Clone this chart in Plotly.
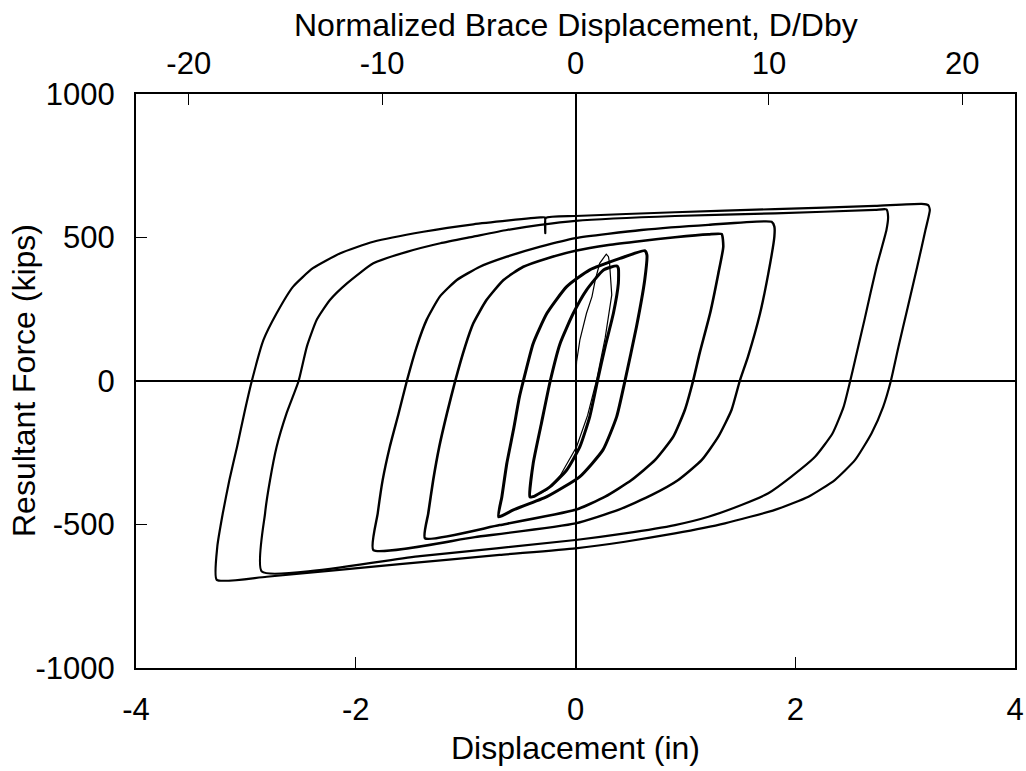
import plotly.graph_objects as go

# ---- data (displacement in inches, force in kips) ----
initial_x = [0.0, 0.01, 0.04, 0.10, 0.15, 0.18, 0.22, 0.28, 0.30, 0.31, 0.33, 0.27, 0.19, 0.11, 0.01, -0.14, -0.26, -0.39]
initial_y = [0, 67, 143, 236, 294, 352, 410, 442, 433, 410, 300, 150, 0, -120, -229, -330, -380, -403]

loop1_x = [-0.415, -0.385, -0.31, -0.23, -0.14, -0.02, 0.10, 0.255, 0.375, 0.39, 0.39, 0.345, 0.27, 0.20, 0.13, 0.04, -0.08, -0.23, -0.385, -0.415]
loop1_y = [-403, -287, -147, 0, 131, 236, 317, 387, 401, 393, 340, 236, 120, 0, -124, -229, -310, -368, -403, -403]

loop2_x = [-0.70, -0.67, -0.625, -0.565, -0.51, -0.475, -0.385, -0.26, -0.08, 0.13, 0.405, 0.63, 0.65, 0.63, 0.555, 0.45, 0.375, 0.25, 0.04, -0.26, -0.565, -0.70]
loop2_y = [-473, -403, -287, -171, -55, 0, 131, 236, 329, 387, 427, 454, 439, 352, 189, 0, -124, -240, -333, -403, -449, -473]

loop3_x = [-1.37, -1.34, -1.295, -1.24, -1.17, -1.095, -1.005, -0.93, -0.81, -0.655, -0.475, -0.26, 0.0, 0.30, 0.60, 0.905, 1.21, 1.33,
           1.345, 1.30, 1.225, 1.13, 1.07, 0.995, 0.89, 0.725, 0.51, 0.27, 0.0, -0.69, -1.37]
loop3_y = [-548, -461, -345, -229, -113, 0, 120, 201, 282, 352, 398, 427, 454, 474, 488, 501, 511, 512,
           468, 375, 236, 97, 0, -101, -194, -275, -345, -403, -449, -502, -548]

loop4_x = [-1.84, -1.80, -1.755, -1.69, -1.61, -1.535, -1.445, -1.355, -1.235, -1.08, -0.87, -0.625, -0.32, 0.0, 0.60, 1.21, 1.785, 1.81,
           1.81, 1.755, 1.68, 1.57, 1.495, 1.42, 1.30, 1.15, 0.935, 0.695, 0.39, 0.0, -0.915, -1.84]
loop4_y = [-589, -461, -345, -229, -113, 0, 120, 213, 294, 352, 398, 433, 468, 498, 526, 544, 555, 538,
           503, 375, 236, 85, 0, -101, -194, -275, -345, -397, -449, -496, -544, -589]

loop5_x = [-2.855, -2.825, -2.78, -2.72, -2.63, -2.52, -2.445, -2.355, -2.235, -2.08, -1.84, -1.535, -1.23, -0.93, -0.625, -0.32, 0.0,
           0.905, 1.815, 2.725, 2.83, 2.845, 2.83, 2.74, 2.63, 2.545, 2.50, 2.44, 2.34, 2.18, 1.965, 1.755, 1.51, 1.21, 0.905,
           0.45, 0.0, -1.415, -2.855]
loop5_y = [-664, -460, -345, -229, -113, 0, 120, 213, 282, 340, 410, 450, 480, 503, 526, 544, 558,
           575, 584, 596, 598, 572, 526, 398, 213, 73, 0, -90, -182, -264, -333, -391, -432, -473, -502,
           -531, -554, -610, -664]

loop6_x = [-3.265, -3.26, -3.21, -3.15, -3.08, -3.015, -2.946, -2.84, -2.72, -2.57, -2.39, -2.14, -1.84, -1.385, -0.93, -0.32,
           -0.28, -0.275, -0.27, 0.0, 0.905, 1.815, 2.725, 3.15, 3.21, 3.225, 3.185, 3.11, 3.025, 2.94, 2.87, 2.80,
           2.695, 2.545, 2.36, 2.12, 1.815, 1.36, 0.905, 0.45, 0.0, -0.69, -1.60, -2.81, -3.265]
loop6_y = [-693, -577, -461, -345, -229, -113, 0, 143, 236, 329, 393, 445, 485, 520, 546, 570,
           570, 515, 568, 575, 588, 599, 610, 617, 613, 596, 526, 398, 259, 120, 0, -90,
           -182, -275, -345, -403, -449, -496, -531, -560, -583, -606, -638, -682, -693]

# ---- axis labels / ticks ----
x_ticks = [-4, -2, 0, 2, 4]
x_ticktext = ["-4", "-2", "0", "2", "4"]
y_ticks = [-1000, -500, 0, 500, 1000]
y_ticktext = ["-1000", "-500", "0", "500", "1000"]
top_ticks = [-20, -10, 0, 10, 20]
top_ticktext = ["-20", "-10", "0", "10", "20"]
x_title = "Displacement (in)"
top_title = "Normalized Brace Displacement, D/Dby"
y_title = "Resultant Force (kips)"
dby = 0.176  # brace yield displacement (in) used for the top axis
x_range = [-4, 4]
y_range = [-1000, 1000]

FONT = "Liberation Sans, Arial, sans-serif"
TICK_SIZE = 31
TITLE_SIZE = 32

fig = go.Figure()

loops = [
    (loop1_x, loop1_y, 3.0),
    (loop2_x, loop2_y, 3.0),
    (loop3_x, loop3_y, 2.6),
    (loop4_x, loop4_y, 2.4),
    (loop5_x, loop5_y, 2.2),
    (loop6_x, loop6_y, 2.2),
]
for lx, ly, w in loops:
    fig.add_trace(go.Scatter(x=lx, y=ly, mode="lines",
                             line=dict(color="black", width=w, shape="spline", smoothing=0.5),
                             showlegend=False, hoverinfo="skip"))

fig.add_trace(go.Scatter(x=initial_x, y=initial_y, mode="lines",
                         line=dict(color="black", width=1.2),
                         showlegend=False, hoverinfo="skip"))

# invisible trace to create the top (normalized) axis
fig.add_trace(go.Scatter(x=top_ticks, y=[0] * len(top_ticks), xaxis="x2", mode="none",
                         showlegend=False, hoverinfo="skip"))

common = dict(showgrid=False, ticks="inside", ticklen=11, tickwidth=1.3, tickcolor="black",
              automargin=False,
              tickfont=dict(family=FONT, size=TICK_SIZE, color="black"))

title_font = dict(family=FONT, size=TITLE_SIZE, color="black")

fig.update_layout(
    width=1026, height=771,
    margin=dict(l=136, r=11, t=94, b=103),
    paper_bgcolor="white", plot_bgcolor="white",
    font=dict(family=FONT, color="black"),
    xaxis=dict(range=x_range, tickvals=x_ticks, ticktext=x_ticktext, showline=True, linewidth=2, linecolor="black",
               mirror=True, zeroline=True, zerolinecolor="black", zerolinewidth=1.5,
               ticklabelstandoff=13, **common),
    xaxis2=dict(range=[x_range[0] / dby, x_range[1] / dby], tickvals=top_ticks, ticktext=top_ticktext,
                overlaying="x", side="top",
                showline=False, zeroline=False, ticklabelstandoff=13, **common),
    yaxis=dict(range=y_range, tickvals=y_ticks, ticktext=y_ticktext, showline=True, linewidth=2, linecolor="black",
               mirror=True, zeroline=True, zerolinecolor="black", zerolinewidth=1.5,
               ticklabelstandoff=13, **common),
    annotations=[
        dict(text=x_title, xref="paper", yref="paper", x=0.5, y=0, xanchor="center", yanchor="middle",
             yshift=-80, showarrow=False, font=title_font),
        dict(text=top_title, xref="paper", yref="paper", x=0.5, y=1, xanchor="center", yanchor="middle",
             yshift=69, showarrow=False, font=title_font),
        dict(text=y_title, xref="paper", yref="paper", x=0, y=0.5, xanchor="center", yanchor="middle",
             xshift=-112, textangle=-90, showarrow=False, font=title_font),
    ],
)

# remove the default page margin so the figure fills the window exactly
fig.write_html("out.html", config={"displayModeBar": False},
               post_script="document.body.style.margin='0';document.body.style.overflow='hidden';")
